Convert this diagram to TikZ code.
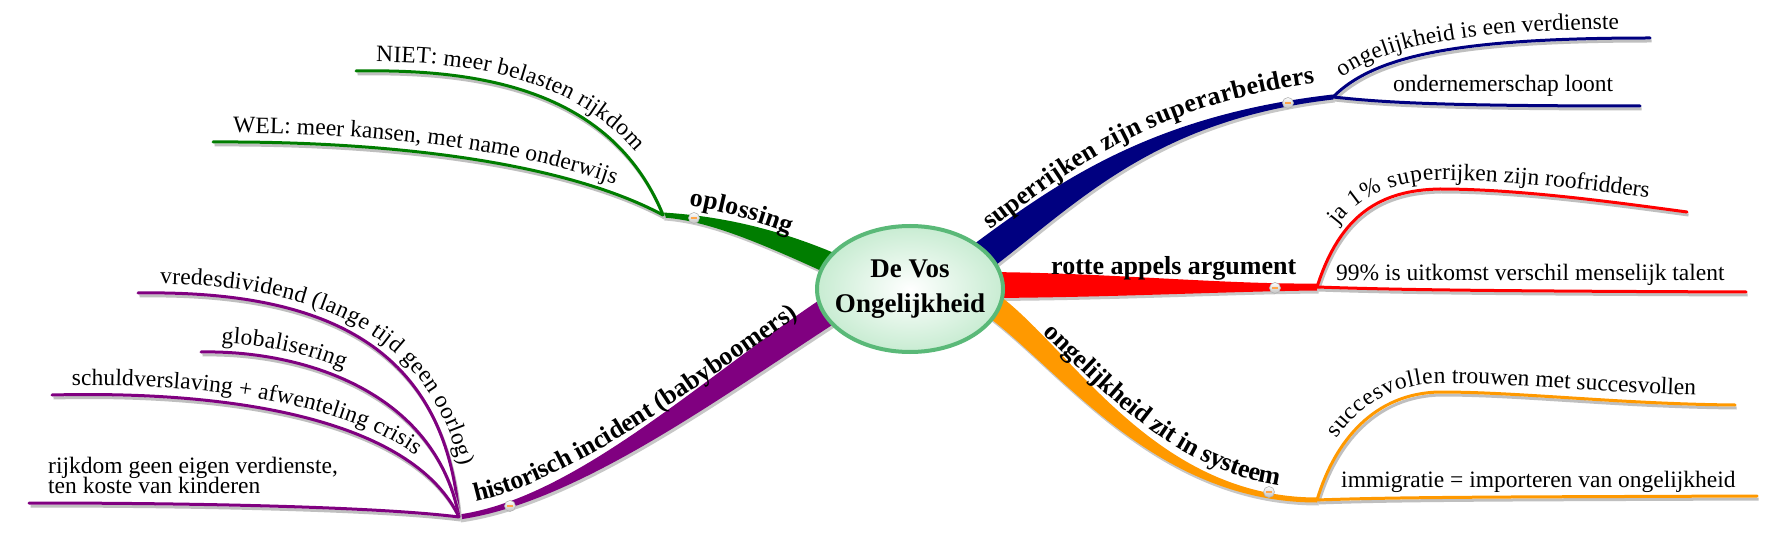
\documentclass[tikz,border=0pt]{standalone}
\usepackage{fontspec}
\setmainfont{Liberation Serif}
\usetikzlibrary{calc,shapes.geometric,decorations.text}
\definecolor{mmgreen}{RGB}{0,125,0}
\definecolor{mmblue}{RGB}{0,0,128}
\definecolor{mmred}{RGB}{255,0,0}
\definecolor{mmorange}{RGB}{255,153,0}
\definecolor{mmpurple}{RGB}{128,0,128}
\definecolor{ellline}{RGB}{90,185,120}
\definecolor{ellfill}{RGB}{200,236,210}
\newcommand\mmsub{\fontsize{23.5}{20}\selectfont}
\newcommand\mmlab{\fontsize{26}{28}\selectfont\bfseries}
% tapered main branch: #1 start, #2 c1, #3 c2, #4 end, #5 half width at start, #6 at end, #7 colour
\newcommand\mmband[7]{%
  \coordinate (tS1) at ($(#1)!#5!90:(#2)$);
  \coordinate (tS2) at ($(#1)!#5!-90:(#2)$);
  \coordinate (tE1) at ($(#4)!#6!-90:(#3)$);
  \coordinate (tE2) at ($(#4)!#6!90:(#3)$);
  \fill[#7, preaction={fill=black!22, transform canvas={shift={(1.5pt,-3pt)}}}]
    (tS1) .. controls ($(#2)+(tS1)-(#1)$) and ($(#3)+(tE1)-(#4)$) .. (tE1)
    -- (tE2) .. controls ($(#3)+(tE2)-(#4)$) and ($(#2)+(tS2)-(#1)$) .. (tS2) -- cycle;
}
\tikzset{
  subline/.style={draw=#1, line width=3pt, line cap=round,
    preaction={draw=black!25, line width=3pt, transform canvas={shift={(1.5pt,-3pt)}}}},
  alongtext/.style n args={3}{postaction={decorate, decoration={text along path,
    raise=#1, text align={left indent=#2}, text={#3}}}},
  knob/.style={circle, minimum size=11pt, inner sep=0pt, draw=black!30, line width=0.6pt,
    top color=white, bottom color=black!25},
  knobbar/.style={draw=orange!70, line width=1.5pt},
  subtext/.style={font=\mmsub, inner sep=0pt, anchor=base west},
  labtext/.style={font=\mmlab, inner sep=0pt, anchor=base west},
  centre/.style={ellipse, draw=ellline, line width=4pt, minimum width=186pt, minimum height=126pt,
    inner sep=0pt, inner color=white, outer color=ellfill},
  centretext/.style={align=center, inner sep=0pt, font=\fontsize{27}{35}\selectfont\bfseries}
}
\begin{document}
\begin{tikzpicture}[x=1pt,y=-1pt]
\fill[white] (0,0) rectangle (1785,537);
\useasboundingbox (0,0) rectangle (1785,537);

% junctions and bases
\coordinate (jg) at (663,215);  \coordinate (bg) at (850,272);
\coordinate (jb) at (1333,97);  \coordinate (bb) at (975,262);
\coordinate (jr) at (1317,287); \coordinate (br) at (975,285);
\coordinate (jo) at (1317,500); \coordinate (bo) at (985,300);
\coordinate (jp) at (459,517);  \coordinate (bp) at (845,300);

% main bands
\mmband{jg}{710,218}{770,235}{bg}{2.5pt}{11pt}{mmgreen}
\mmband{bb}{1065,195}{1150,118}{jb}{15pt}{2.5pt}{mmblue}
\mmband{br}{1100,285}{1220,288}{jr}{13pt}{3.5pt}{mmred}
\mmband{bo}{1060,350}{1150,500}{jo}{12pt}{2.5pt}{mmorange}
\mmband{jp}{580,500}{720,380}{bp}{2.5pt}{14pt}{mmpurple}

% centre
\node[centre] (c) at (910,289) {};
\node[centretext] (ct) at (c) {De Vos\\Ongelijkheid};

% green subbranches
\coordinate (lg1) at (356,71);
\coordinate (lg2) at (213,142);
\draw[subline=mmgreen, alongtext={9pt}{20pt}{|\mmsub|NIET: meer belasten rijkdom}]
  (lg1) .. controls (470,69) and (610,85) .. (jg);
\draw[subline=mmgreen, alongtext={9pt}{20pt}{|\mmsub|WEL: meer kansen, met name onderwijs}]
  (lg2) .. controls (380,141) and (560,160) .. (jg);

% blue subbranches
\coordinate (lb1) at (1650,38);
\coordinate (lb2) at (1640,106);
\draw[subline=mmblue, alongtext={9pt}{18pt}{|\mmsub|ongelijkheid is een verdienste}]
  (jb) .. controls (1375,55) and (1460,38) .. (lb1);
\draw[subline=mmblue] (jb) .. controls (1380,102) and (1430,106) .. (lb2);
\node[subtext] (tb2) at (1393,92) {ondernemerschap loont};

% red subbranches
\coordinate (lr1) at (1687,212);
\coordinate (lr2) at (1746,292);
\draw[subline=mmred, alongtext={9pt}{62pt}{|\mmsub|ja 1{\%} superrijken zijn roofridders}]
  (jr) .. controls (1340,215) and (1380,190) .. (1440,189) .. controls (1520,189) and (1620,203) .. (lr1);
\draw[subline=mmred] (jr) .. controls (1400,290) and (1500,291) .. (lr2);
\node[subtext] (tr2) at (1336,280) {99\% is uitkomst verschil menselijk talent};

% orange subbranches
\coordinate (lo1) at (1735,405);
\coordinate (lo2) at (1757,496);
\draw[subline=mmorange, alongtext={9pt}{62pt}{|\mmsub|succesvollen trouwen met succesvollen}]
  (jo) .. controls (1335,440) and (1375,393) .. (1440,392) .. controls (1520,392) and (1620,404) .. (lo1);
\draw[subline=mmorange] (jo) .. controls (1400,497) and (1500,497) .. (lo2);
\node[subtext] (to2) at (1341,487) {immigratie = importeren van ongelijkheid};

% purple subbranches
\coordinate (lp1) at (138,293);
\coordinate (lp2) at (201,352);
\coordinate (lp3) at (52,395);
\coordinate (lp4) at (29,503);
\draw[subline=mmpurple, alongtext={9pt}{22pt}{|\mmsub|vredesdividend (lange tijd geen oorlog)}]
  (lp1) .. controls (330,290) and (445,350) .. (jp);
\draw[subline=mmpurple, alongtext={9pt}{20pt}{|\mmsub|globalisering}]
  (lp2) .. controls (300,350) and (435,390) .. (jp);
\draw[subline=mmpurple, alongtext={9pt}{20pt}{|\mmsub|schuldverslaving + afwenteling crisis}]
  (lp3) .. controls (250,390) and (415,425) .. (jp);
\draw[subline=mmpurple] (lp4) .. controls (200,503) and (380,507) .. (jp);
\node[subtext] (tp4a) at (48,473) {rijkdom geen eigen verdienste,};
\node[subtext] (tp4b) at (48,493) {ten koste van kinderen};

% main labels
\path[alongtext={12pt}{24pt}{|\mmlab|oplossing}] (jg) .. controls (710,218) and (770,235) .. (bg);
\path[alongtext={16pt}{32pt}{|\mmlab|superrijken zijn superarbeiders}] (bb) .. controls (1065,195) and (1150,118) .. (jb);
\node[labtext] (tr) at (1051,275) {rotte appels argument};
\path[alongtext={12pt}{65pt}{|\mmlab|ongelijkheid zit in systeem}] (bo) .. controls (1060,350) and (1150,500) .. (jo);
\path[alongtext={12pt}{20pt}{|\mmlab|historisch incident (babyboomers)}] (jp) .. controls (580,500) and (720,380) .. (bp);

% knobs
\foreach \k/\p in {kg/{694,218}, kb/{1288,103}, kr/{1275,288}, ko/{1269,492}, kp/{510,506}}{
  \node[knob] (\k) at (\p) {};
  \draw[knobbar] ([xshift=-3pt]\k.center) -- ([xshift=3pt]\k.center);
}
\end{tikzpicture}
\end{document}
